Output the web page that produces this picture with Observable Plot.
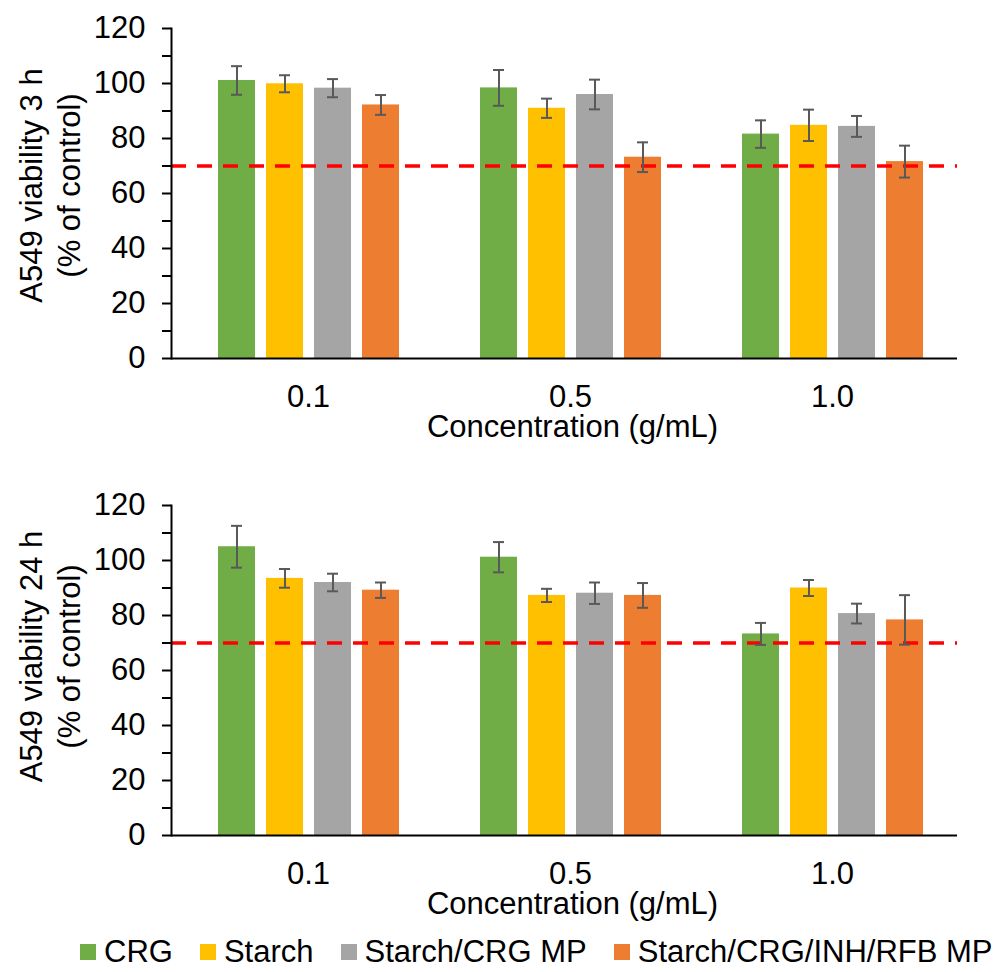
<!DOCTYPE html>
<html>
<head>
<meta charset="utf-8">
<script src="https://cdn.jsdelivr.net/npm/d3@7"></script>
<script src="https://cdn.jsdelivr.net/npm/@observablehq/plot@0.6"></script>
<style>
  html, body { margin: 0; padding: 0; background: #fff; }
  body { width: 1005px; font-family: "Liberation Sans", Arial, sans-serif; }
  svg { display: block; }
  #legend { display: flex; align-items: center; height: 47px; padding-left: 80px; padding-top: 6px; box-sizing: border-box; gap: 27px; font-size: 31px; color: #000; }
  .item { display: flex; align-items: center; gap: 8px; white-space: nowrap; }
  .sw { width: 16px; height: 16px; display: inline-block; }
</style>
</head>
<body>
<div id="top"></div>
<div id="bottom"></div>
<div id="legend"></div>
<script>
// ---- data ----
const series = ["CRG", "Starch", "Starch/CRG MP", "Starch/CRG/INH/RFB MP"];
const seriesColors = ["#70AD47", "#FFC000", "#A5A5A5", "#ED7D31"];
const concentrations = ["0.1", "0.5", "1.0"];
const yTicks = [0, 20, 40, 60, 80, 100, 120];
const yMinorTicks = [10, 30, 50, 70, 90, 110];
const threshold = 70;
const xTitle = "Concentration (g/mL)";

// rows: concentration; columns: series order above
const viability3h = [
  [101.1, 99.9, 98.3, 92.2],
  [98.4, 91.0, 96.0, 73.2],
  [81.6, 84.8, 84.4, 71.6]
];
const error3h = [
  [5.2, 3.1, 3.3, 3.6],
  [6.5, 3.5, 5.4, 5.4],
  [5.0, 5.7, 3.8, 5.8]
];
const viability24h = [
  [105.0, 93.5, 92.0, 89.2],
  [101.2, 87.3, 88.1, 87.3],
  [73.3, 90.0, 80.7, 78.4]
];
const error24h = [
  [7.6, 3.4, 3.2, 2.8],
  [5.5, 2.4, 3.9, 4.5],
  [4.0, 2.9, 3.6, 9.0]
];

function rows(values, errors) {
  return concentrations.flatMap((c, i) =>
    series.map((s, j) => ({conc: c, series: s, value: values[i][j], err: errors[i][j]})));
}

function panel({values, errors, yLabel, labelShift, height, marginTop, marginBottom}) {
  const data = rows(values, errors);
  const errStyle = {stroke: "#595959", strokeWidth: 2};
  return Plot.plot({
    width: 1005,
    height,
    marginTop,
    marginBottom,
    marginLeft: 170,
    marginRight: 47,
    style: {fontFamily: "'Liberation Sans', Arial, sans-serif", fontSize: "31px", color: "#000", background: "#fff", overflow: "visible"},
    fx: {domain: concentrations, padding: 0, label: null},
    x: {domain: series, paddingInner: 0.22, paddingOuter: 0.8, align: 0.58, axis: null},
    y: {domain: [0, 120], label: null},
    color: {domain: series, range: seriesColors},
    marks: [
      Plot.barY(data, {fx: "conc", x: "series", y: "value", fill: "series"}),
      Plot.ruleY([threshold], {stroke: "#ff0000", strokeWidth: 3.5, strokeDasharray: "15,11"}),
      Plot.ruleX(data, {fx: "conc", x: "series", y1: d => d.value - d.err, y2: d => d.value + d.err, ...errStyle}),
      Plot.tickY(data, {fx: "conc", x: "series", y: d => d.value + d.err, insetLeft: 13, insetRight: 13, ...errStyle}),
      Plot.tickY(data, {fx: "conc", x: "series", y: d => d.value - d.err, insetLeft: 13, insetRight: 13, ...errStyle}),
      Plot.ruleY([0], {stroke: "#000", strokeWidth: 2}),
      Plot.frame({anchor: "left", facetAnchor: "left", stroke: "#000", strokeWidth: 2}),
      Plot.axisY({ticks: yTicks, tickSize: 9, tickPadding: 17, strokeWidth: 2, fontSize: 31, label: null}),
      Plot.axisY({ticks: yMinorTicks, tickSize: 9, strokeWidth: 2, tickFormat: () => "", label: null}),
      Plot.axisFx({anchor: "bottom", tickSize: 0, tickPadding: 26, fontSize: 31, label: null, dx: 6}),
      Plot.text([yLabel], {frameAnchor: "left", facetAnchor: "left", rotate: -90, dx: -123, dy: labelShift, lineHeight: 1.24, fontSize: 31, textAnchor: "middle", lineAnchor: "middle", fill: "#000"}),
      Plot.text([{conc: "0.5", label: xTitle}], {fx: "conc", text: "label", frameAnchor: "bottom", dy: 69, dx: 8, lineAnchor: "middle", fontSize: 31, fill: "#000"})
    ]
  });
}

document.getElementById("top").append(panel({
  values: viability3h, errors: error3h,
  yLabel: "A549 viability 3 h\n(% of control)", labelShift: -8,
  height: 450, marginTop: 28, marginBottom: 92
}));
document.getElementById("bottom").append(panel({
  values: viability24h, errors: error24h,
  yLabel: "A549 viability 24 h\n(% of control)", labelShift: -14,
  height: 475, marginTop: 55, marginBottom: 90
}));

const legend = document.getElementById("legend");
series.forEach((s, i) => {
  const item = document.createElement("span");
  item.className = "item";
  const sw = document.createElement("span");
  sw.className = "sw";
  sw.style.background = seriesColors[i];
  const t = document.createElement("span");
  t.textContent = s;
  item.append(sw, t);
  legend.append(item);
});
</script>
</body>
</html>
